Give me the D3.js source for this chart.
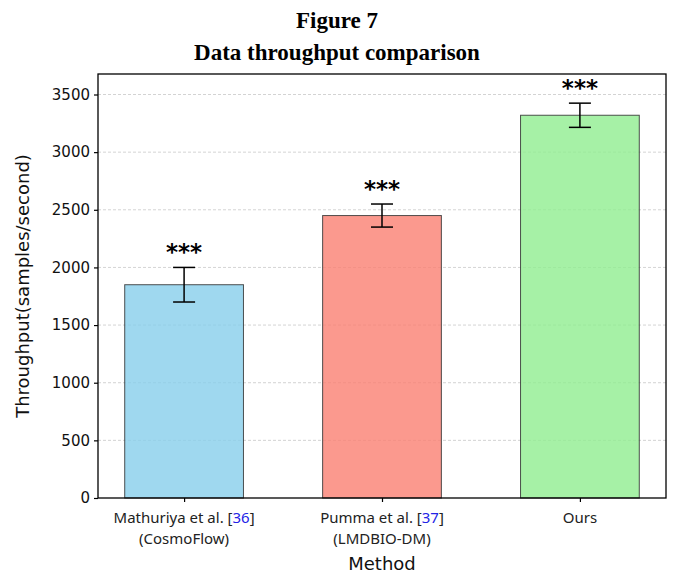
<!DOCTYPE html>
<html><head><meta charset="utf-8">
<script src="https://cdn.jsdelivr.net/npm/d3@7"></script>
<style>body{margin:0;background:#fff}</style>
</head><body>
<svg id="c" width="675" height="574"></svg>
<script>
const methods = ["Mathuriya et al.", "Pumma et al.", "Ours"];
const refs = ["36", "37", null];
const subLabels = ["(CosmoFlow)", "(LMDBIO-DM)", null];
const throughput = [1850, 2450, 3320];
const errors = [150, 100, 105];
const sigLabels = ["***", "***", "***"];
const colors = ["#87CEEB", "#FA8072", "#90EE90"];
const yTicks = [0, 500, 1000, 1500, 2000, 2500, 3000, 3500];

const svg = d3.select("#c");
const L = 98, R = 666, T = 74, B = 498;

const x = d3.scaleLinear().domain([-0.435, 2.435]).range([L, R]);
const y = d3.scaleLinear().domain([0, 3500]).range([B, 94.5]);
const bw = 0.6;

// titles
svg.append("text").attr("x", 337).attr("y", 28).attr("text-anchor", "middle")
  .attr("font-family", "Liberation Serif, Times New Roman, serif").attr("font-weight", "bold")
  .attr("font-size", 23).text("Figure 7");
svg.append("text").attr("x", 337).attr("y", 60).attr("text-anchor", "middle")
  .attr("font-family", "Liberation Serif, Times New Roman, serif").attr("font-weight", "bold")
  .attr("font-size", 23).text("Data throughput comparison");

// grid
svg.append("g").selectAll("line").data(yTicks.filter(d => d > 0)).join("line")
  .attr("x1", L).attr("x2", R).attr("y1", d => y(d)).attr("y2", d => y(d))
  .attr("stroke", "#c8c8c8").attr("stroke-width", 0.8).attr("stroke-dasharray", "3,2");

// bars
const idx = d3.range(methods.length);
svg.append("g").selectAll("rect").data(idx).join("rect")
  .attr("x", i => x(i - bw / 2)).attr("width", i => x(i + bw / 2) - x(i - bw / 2))
  .attr("y", i => y(throughput[i])).attr("height", i => B - y(throughput[i]))
  .attr("fill", i => colors[i]).attr("fill-opacity", 0.8)
  .attr("stroke", "#333").attr("stroke-opacity", 0.85).attr("stroke-width", 1);

// error bars
const eg = svg.append("g").attr("stroke", "#000").attr("stroke-width", 1.5);
idx.forEach(i => {
  const cx = x(i), cap = 11;
  eg.append("line").attr("x1", cx).attr("x2", cx).attr("y1", y(throughput[i] + errors[i])).attr("y2", y(throughput[i] - errors[i]));
  eg.append("line").attr("x1", cx - cap).attr("x2", cx + cap).attr("y1", y(throughput[i] + errors[i])).attr("y2", y(throughput[i] + errors[i]));
  eg.append("line").attr("x1", cx - cap).attr("x2", cx + cap).attr("y1", y(throughput[i] - errors[i])).attr("y2", y(throughput[i] - errors[i]));
});

// significance
svg.append("g").selectAll("text").data(idx).join("text")
  .attr("x", i => x(i)).attr("y", i => y(throughput[i] + errors[i]) - 7)
  .attr("text-anchor", "middle").attr("font-family", "DejaVu Sans, sans-serif")
  .attr("font-weight", "bold").attr("font-size", 23).text(i => sigLabels[i]);

// frame
svg.append("rect").attr("x", L).attr("y", T).attr("width", R - L).attr("height", B - T)
  .attr("fill", "none").attr("stroke", "#000").attr("stroke-width", 1.3);

// y axis
const ya = svg.append("g").attr("transform", `translate(${L},0)`)
  .call(d3.axisLeft(y).tickValues(yTicks).tickSize(4).tickPadding(4).tickFormat(d3.format("d")));
ya.select(".domain").remove();
ya.selectAll("line").attr("stroke", "#000").attr("stroke-width", 1.2);
ya.selectAll("text").attr("font-family", "DejaVu Sans, sans-serif").attr("font-size", 15).attr("fill", "#111");

// x axis ticks
const xa = svg.append("g").attr("transform", `translate(0,${B})`)
  .call(d3.axisBottom(x).tickValues(idx).tickSize(4).tickFormat(""));
xa.select(".domain").remove();
xa.selectAll("line").attr("stroke", "#000").attr("stroke-width", 1.2);

// x tick labels
const lf = "Noto Sans, Open Sans, sans-serif";
idx.forEach(i => {
  const t = svg.append("text").attr("x", x(i)).attr("y", 523).attr("text-anchor", "middle")
    .attr("font-family", lf).attr("font-size", 15).attr("fill", "#222");
  t.append("tspan").text(methods[i]);
  if (refs[i]) {
    t.append("tspan").text(" [");
    t.append("tspan").attr("fill", "#2323e6").text(refs[i]);
    t.append("tspan").text("]");
  }
  if (subLabels[i]) {
    svg.append("text").attr("x", x(i)).attr("y", 544).attr("text-anchor", "middle")
      .attr("font-family", lf).attr("font-size", 15).attr("fill", "#222").text(subLabels[i]);
  }
});

// axis labels
svg.append("text").attr("x", x(1)).attr("y", 570).attr("text-anchor", "middle")
  .attr("font-family", "DejaVu Sans, sans-serif").attr("font-size", 18).attr("fill", "#111").text("Method");
svg.append("text").attr("transform", `translate(29,${(T + B) / 2}) rotate(-90)`).attr("text-anchor", "middle")
  .attr("font-family", "DejaVu Sans, sans-serif").attr("font-size", 18).attr("fill", "#111")
  .text("Throughput(samples/second)");
</script>
</body></html>
